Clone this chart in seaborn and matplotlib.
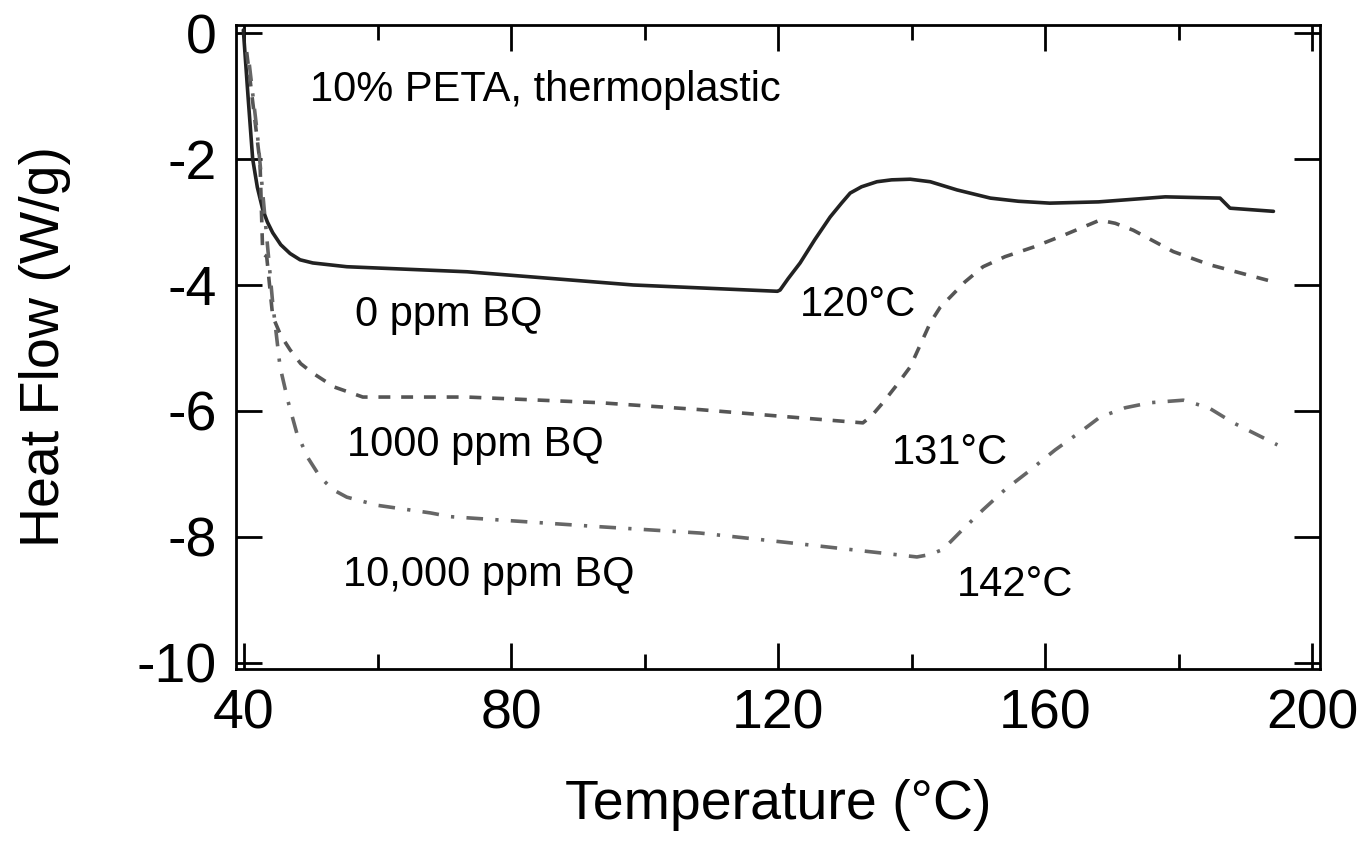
import matplotlib
matplotlib.use("Agg")
import matplotlib.pyplot as plt
import seaborn as sns
import pandas as pd
from matplotlib.ticker import MultipleLocator, FuncFormatter

sns.set_theme(style="ticks")
plt.rcParams['font.family'] = ['Liberation Sans', 'DejaVu Sans']
plt.rcParams['text.color'] = 'black'
plt.rcParams['axes.labelcolor'] = 'black'
plt.rcParams['axes.unicode_minus'] = False

# 0 ppm BQ
t0 = [39.9, 40.6, 41.3, 42.0, 42.8, 43.5, 44.3, 45.5, 46.9, 48.4, 50.3, 55.4, 73.4, 98.3, 119.9,
      120.3, 121.5, 123.3, 125.5, 127.8, 129.5, 130.8, 132.5, 134.8, 137.0, 139.8, 142.8, 146.8,
      151.8, 156.0, 160.7, 168.0, 178.0, 186.2, 187.7, 194.2]
h0 = [0.05, -1.0, -2.0, -2.45, -2.8, -3.0, -3.17, -3.36, -3.5, -3.6, -3.65, -3.71, -3.79, -4.0, -4.1,
      -4.08, -3.9, -3.65, -3.28, -2.92, -2.7, -2.54, -2.44, -2.36, -2.33, -2.32, -2.36, -2.49,
      -2.62, -2.67, -2.7, -2.68, -2.6, -2.62, -2.78, -2.83]

# 1000 ppm BQ
t1 = [40.4, 41.2, 42.4, 42.8, 43.4, 44.3, 45.5, 46.9, 48.5, 50.3, 53.5, 57.8, 73.4, 93.3, 108.3,
      123.3, 132.7, 134.0, 135.7, 137.7, 139.8, 141.3, 142.8, 144.3, 145.8, 148.0, 150.7, 154.0,
      158.2, 163.0, 168.2, 170.5, 173.2, 179.2, 184.7, 194.2]
h1 = [-0.3, -1.0, -2.06, -3.5, -3.55, -4.5, -4.8, -5.03, -5.25, -5.4, -5.62, -5.78, -5.78, -5.87, -5.98,
      -6.11, -6.19, -6.08, -5.87, -5.6, -5.3, -4.95, -4.6, -4.35, -4.19, -3.95, -3.71, -3.55,
      -3.4, -3.2, -2.97, -3.02, -3.13, -3.47, -3.68, -3.95]

# 10,000 ppm BQ
t2 = [40.8, 42.0, 43.2, 44.3, 45.4, 46.6, 47.9, 49.6, 51.4, 53.3, 55.4, 60.0, 67.9, 70.9, 93.3,
      108.3, 122.2, 140.8, 142.8, 144.7, 147.5, 150.7, 154.0, 157.3, 161.5, 165.7, 168.2, 172.0,
      175.7, 180.7, 184.5, 188.2, 194.8]
h2 = [-0.5, -1.6, -3.0, -4.29, -5.3, -5.85, -6.35, -6.75, -7.05, -7.25, -7.37, -7.5, -7.62, -7.68, -7.84,
      -7.94, -8.1, -8.32, -8.28, -8.2, -7.9, -7.57, -7.25, -6.98, -6.62, -6.3, -6.1, -5.95,
      -5.87, -5.83, -5.95, -6.19, -6.54]

series_labels = ["0 ppm BQ", "1000 ppm BQ", "10,000 ppm BQ"]
temp_labels = ["120°C", "131°C", "142°C"]

fig = plt.figure(figsize=(13.61, 8.41), dpi=100)
ax = fig.add_axes([0.1734, 0.2045, 0.7966, 0.7658])

df0 = pd.DataFrame({"T": t0, "H": h0})
df1 = pd.DataFrame({"T": t1, "H": h1})
df2 = pd.DataFrame({"T": t2, "H": h2})

lw = 2.6
sns.lineplot(data=df0, x="T", y="H", ax=ax, color="#222222", lw=lw, sort=False, estimator=None)
sns.lineplot(data=df1, x="T", y="H", ax=ax, color="#555555", lw=lw, sort=False, estimator=None)
sns.lineplot(data=df2, x="T", y="H", ax=ax, color="#666666", lw=lw, sort=False, estimator=None)
lines = ax.get_lines()
lines[1].set_dashes([3.3, 3.0])
lines[2].set_dashes([4.6, 3.4, 0.9, 3.4])

ax.set_xlim(38.8, 201.2)
ax.set_ylim(-10.1, 0.13)
ax.xaxis.set_major_locator(MultipleLocator(40))
ax.xaxis.set_minor_locator(MultipleLocator(20))
ax.yaxis.set_major_locator(MultipleLocator(2))
ax.yaxis.set_major_formatter(FuncFormatter(lambda v, p: f"{v:.0f}".replace("−", "-")))
ax.tick_params(which="both", direction="in", top=True, right=True, colors="black")
ax.tick_params(which="major", length=19, width=2, labelsize=40, pad=14)
ax.tick_params(which="minor", length=11, width=2)
for s in ax.spines.values():
    s.set_linewidth(2)
    s.set_color("black")

ax.set_xlabel("Temperature (°C)", fontsize=40, labelpad=28)
ax.set_ylabel("Heat Flow (W/g)", fontsize=40, labelpad=47)

fs = 30
ax.text(49.9, -0.9, "10% PETA, thermoplastic", fontsize=fs, va="center", ha="left")
ax.text(56.6, -4.48, series_labels[0], fontsize=fs, va="center", ha="left")
ax.text(55.4, -6.54, series_labels[1], fontsize=fs, va="center", ha="left")
ax.text(54.8, -8.6, series_labels[2], fontsize=fs, va="center", ha="left")
ax.text(123.3, -4.32, temp_labels[0], fontsize=fs, va="center", ha="left")
ax.text(137.1, -6.67, temp_labels[1], fontsize=fs, va="center", ha="left")
ax.text(146.8, -8.76, temp_labels[2], fontsize=fs, va="center", ha="left")

fig.savefig("out.png", dpi=100)
